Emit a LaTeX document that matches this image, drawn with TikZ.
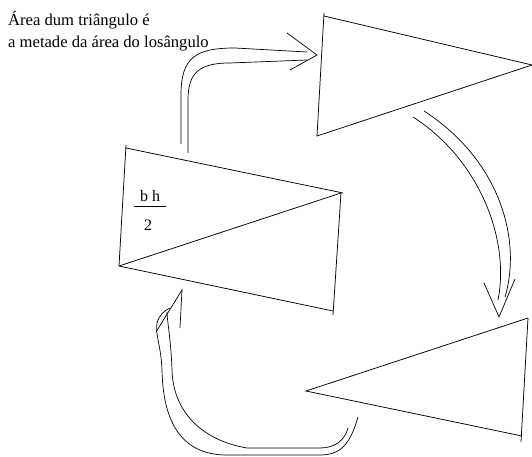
\documentclass[tikz,border=0pt]{standalone}
\usepackage{fontspec}
\setmainfont{Liberation Serif}
\begin{document}
\begin{tikzpicture}[x=1pt,y=-1pt,
  edge/.style={line width=0.75pt,black},
  sketch/.style={line width=0.7pt,black},
  lbl/.style={font=\fontsize{16.6}{22}\selectfont,inner sep=0pt,anchor=base west},
  frac/.style={font=\fontsize{16}{18}\selectfont,inner sep=0pt}]
\useasboundingbox (0,0) rectangle (532,457);
% text
\node[lbl] (t1) at (8,26) {Área dum triângulo é};
\node[lbl] (t2) at (8,48) {a metade da área do losângulo};
% top triangle
\coordinate (A1) at (324,16);
\coordinate (A2) at (532,65);
\coordinate (A3) at (317,136);
\draw[edge] (324,13) -- (A3) -- (A2) -- (A1);
% rhombus
\coordinate (R1) at (126,148);
\coordinate (R2) at (341,193);
\coordinate (R3) at (119,266);
\coordinate (R4) at (333,311);
\draw[edge] (126,145) -- (R3) -- (R4);
\draw[edge] (R1) -- (343,193);
\draw[edge] (R2) -- (333,315);
\draw[edge] (R3) -- (R2);
\node[frac] (bh) at (150,196) {b h};
\node[frac] (two) at (148,225) {2};
\draw[line width=0.9pt] (134,206) -- (166,206);
% bottom triangle
\coordinate (B1) at (528,318);
\coordinate (B2) at (306,391);
\coordinate (B3) at (522,436);
\draw[edge] (B1) -- (B2) -- (B3);
\draw[edge] (B1) -- (521,442);
% arrow top
\draw[sketch] (181,144) -- (181,95) .. controls (181,58) and (195,48) .. (235,48) -- (307,52);
\draw[sketch] (188,153) -- (188,100) .. controls (188,72) and (200,63) .. (230,63) -- (307,60);
\draw[sketch] (287,33) -- (317,55) -- (290,70);
% arrow right
\draw[sketch] (424,111) .. controls (500,160) and (522,240) .. (505,297);
\draw[sketch] (413,117) .. controls (480,160) and (510,240) .. (498,300);
\draw[sketch] (484,283) -- (499,317) -- (515,279);
% arrow bottom
\draw[sketch] (358,417) .. controls (350,445) and (340,455) .. (320,455) -- (227,455) .. controls (180,455) and (163,420) .. (162,370) .. controls (161,345) and (155,335) .. (157,323) .. controls (159,315) and (165,310) .. (170,308);
\draw[sketch] (348,428) .. controls (345,440) and (335,448) .. (320,448) -- (247,448) .. controls (200,440) and (173,410) .. (172,370) .. controls (171,340) and (167,320) .. (167,312);
\draw[sketch] (156,332) -- (182,290) -- (180,328);
\end{tikzpicture}
\end{document}
